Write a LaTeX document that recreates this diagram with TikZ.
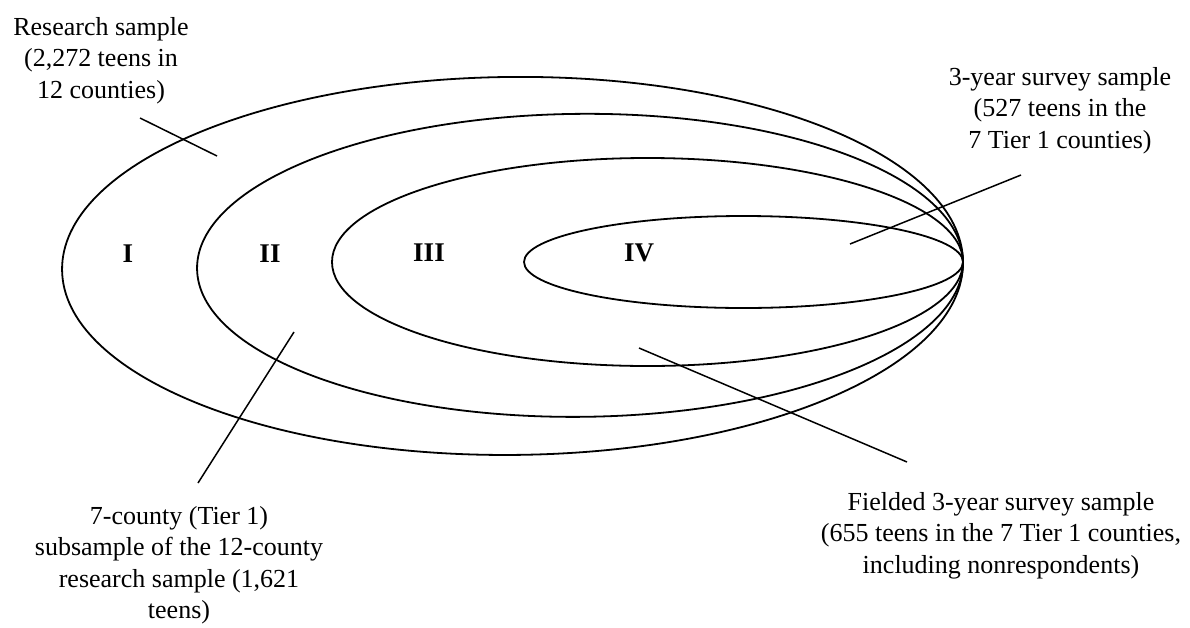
\documentclass[tikz,border=0pt]{standalone}
\usepackage{fontspec}
\setmainfont{Liberation Serif}
\usetikzlibrary{scopes}

\begin{document}
\begin{tikzpicture}[x=1pt,y=-1pt,
    ring/.style={line width=1.8pt},
    leader/.style={line width=1.5pt},
    label text/.style={align=center,inner sep=0pt,anchor=north,
      font=\fontsize{26}{31.5}\selectfont},
    region/.style={inner sep=0pt,font=\fontsize{27}{31.5}\selectfont\bfseries}]
  \useasboundingbox (0,0) rectangle (1190,627);
  { [ring]
    { [rotate around={0.5:(963,262)}]
      \draw (512.5,262) ellipse [x radius=450.5, y radius=189];
      \draw (580,262) ellipse [x radius=383, y radius=151.5];
    }
    \draw (647.5,262) ellipse [x radius=315.5, y radius=104];
    \draw (743.5,262) ellipse [x radius=219.5, y radius=46];
  }
  \node[region] (one) at (128,254) {I};
  \node[region] (two) at (270,254) {II};
  \node[region] (three) at (429,253) {III};
  \node[region] (four) at (639,253) {IV};
  \node[label text] (research) at (101,17) {Research sample\\(2,272 teens in\\12 counties)};
  \node[label text] (survey) at (1060,67) {3-year survey sample\\(527 teens in the\\7 Tier 1 counties)};
  \node[label text] (tier) at (179,506) {7-county (Tier 1)\\subsample of the 12-county\\research sample (1,621\\teens)};
  \node[label text] (fielded) at (1001,492) {Fielded 3-year survey sample\\(655 teens in the 7 Tier 1 counties,\\including nonrespondents)};
  \coordinate (research from) at (140,118);
  \coordinate (research to) at (217,156);
  \coordinate (survey from) at (1021,175);
  \coordinate (survey to) at (850,244);
  \coordinate (tier from) at (198,483);
  \coordinate (tier to) at (294,332);
  \coordinate (fielded from) at (907,462);
  \coordinate (fielded to) at (639,348);
  { [leader]
    \draw (research from) -- (research to);
    \draw (survey from) -- (survey to);
    \draw (tier from) -- (tier to);
    \draw (fielded from) -- (fielded to);
  }
\end{tikzpicture}
\end{document}
